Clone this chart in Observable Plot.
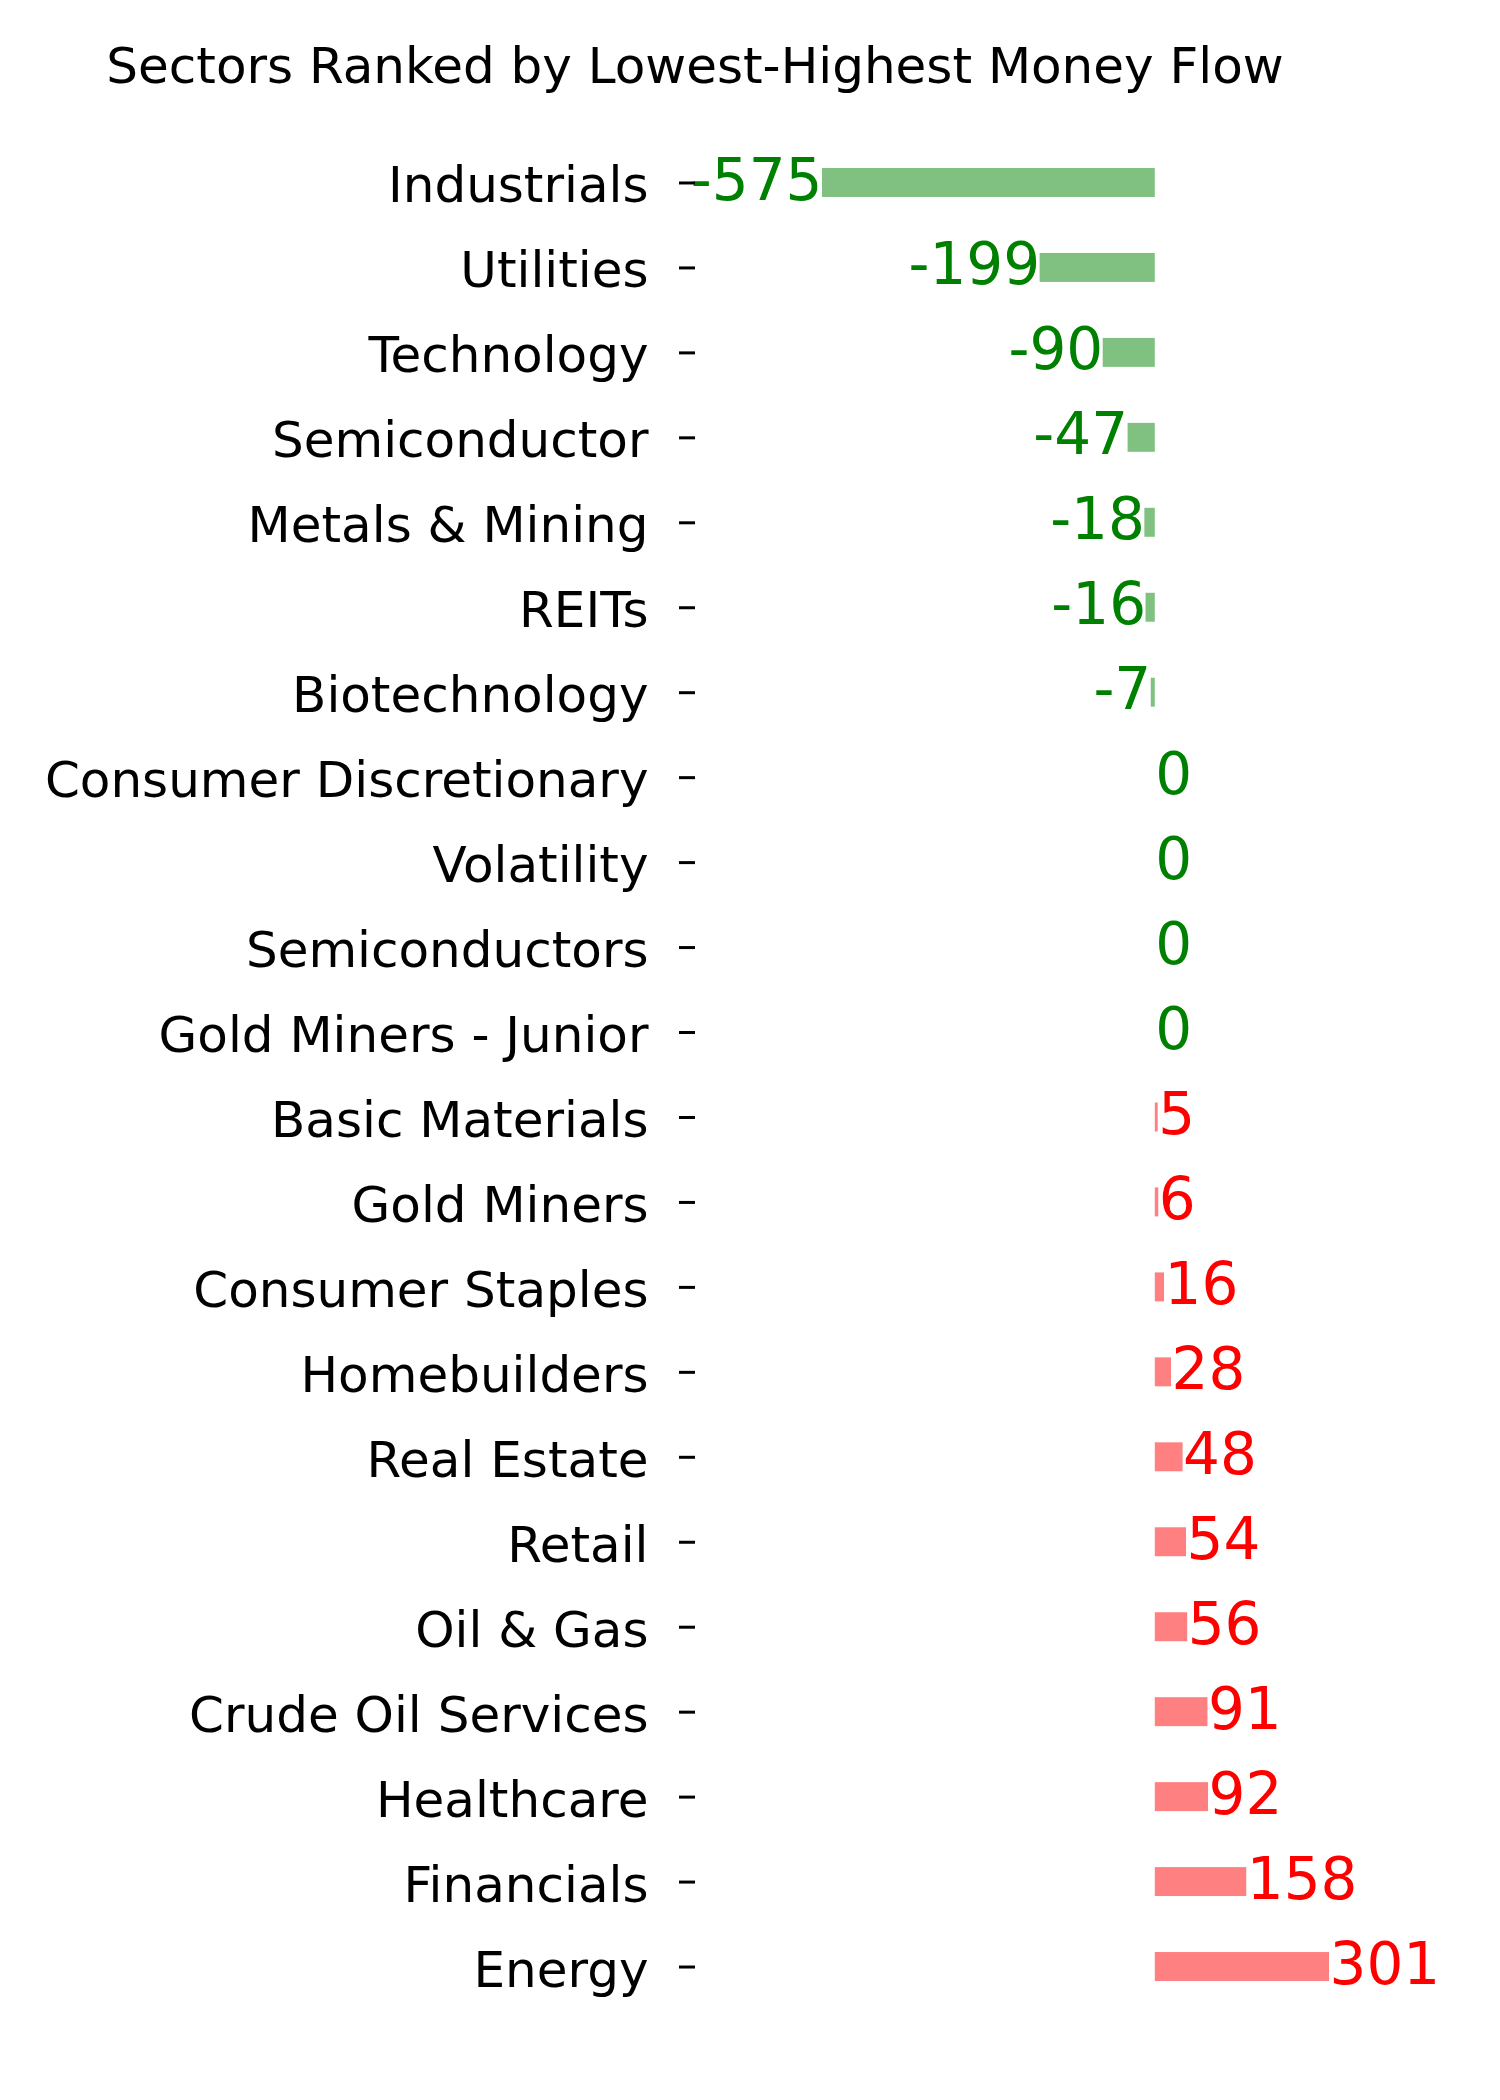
<!DOCTYPE html>
<html>
<head>
<meta charset="utf-8">
<script src="https://cdn.jsdelivr.net/npm/d3@7"></script>
<script src="https://cdn.jsdelivr.net/npm/@observablehq/plot@0.6"></script>
<style>
  html, body { margin: 0; padding: 0; background: #ffffff; }
  #title {
    width: 1390px; height: 100px; box-sizing: border-box;
    padding-top: 37px; line-height: 58px;
    font-family: "DejaVu Sans", sans-serif; font-size: 50px; color: #000;
    text-align: center; white-space: nowrap;
  }
  #chart svg { display: block; }
</style>
</head>
<body>
<div id="title">Sectors Ranked by Lowest-Highest Money Flow</div>
<div id="chart"></div>
<script>
const sectors = [
  "Industrials", "Utilities", "Technology", "Semiconductor", "Metals & Mining",
  "REITs", "Biotechnology", "Consumer Discretionary", "Volatility", "Semiconductors",
  "Gold Miners - Junior", "Basic Materials", "Gold Miners", "Consumer Staples",
  "Homebuilders", "Real Estate", "Retail", "Oil & Gas", "Crude Oil Services",
  "Healthcare", "Financials", "Energy"
];
const flows = [-575, -199, -90, -47, -18, -16, -7, 0, 0, 0, 0, 5, 6, 16, 28, 48, 54, 56, 91, 92, 158, 301];

const data = sectors.map((s, i) => ({sector: s, flow: flows[i]}));
const neg = data.filter(d => d.flow < 0);
const zero = data.filter(d => d.flow === 0);
const pos = data.filter(d => d.flow > 0);

const chart = Plot.plot({
  width: 1500,
  height: 2000,
  marginLeft: 695,
  marginRight: 171,
  marginTop: 40,
  marginBottom: 91,
  style: {fontFamily: "DejaVu Sans, sans-serif", background: "#ffffff", color: "#000"},
  x: {axis: null, domain: d3.extent(flows), insetLeft: 127},
  y: {domain: sectors, padding: 0, round: false, label: null},
  marks: [
    Plot.barX(neg, {x: "flow", y: "sector", fill: "#80c080", insetTop: 28, insetBottom: 28}),
    Plot.barX(pos, {x: "flow", y: "sector", fill: "#ff8080", insetTop: 28, insetBottom: 28}),
    Plot.text(neg, {x: "flow", y: "sector", text: d => String(d.flow), textAnchor: "end", fill: "#008000", fontSize: 58, dy: -2}),
    Plot.text(zero, {x: "flow", y: "sector", text: d => String(d.flow), textAnchor: "start", fill: "#008000", fontSize: 58, dy: -2}),
    Plot.text(pos, {x: "flow", y: "sector", text: d => String(d.flow), textAnchor: "start", fill: "#ff0000", fontSize: 58, dy: -2}),
    Plot.axisY({text: null, tickSize: 16, strokeWidth: 3, stroke: "#000", label: null}),
    Plot.axisY({tickSize: 0, tickPadding: 47, fontSize: 50, fill: "#000", dy: 3.5, label: null})
  ]
});
document.getElementById("chart").appendChild(chart);
</script>
</body>
</html>
